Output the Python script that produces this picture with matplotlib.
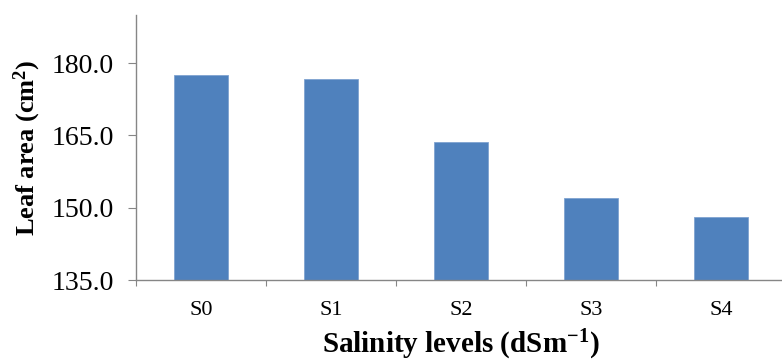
import matplotlib
matplotlib.use("Agg")
import matplotlib.pyplot as plt
import numpy as np

categories = ["S0", "S1", "S2", "S3", "S4"]
leaf_area = [177.6, 176.8, 163.6, 152.1, 148.0]
y_ticks = [135.0, 150.0, 165.0, 180.0]

plt.rcParams['font.family'] = ['Liberation Serif', 'DejaVu Serif']
plt.rcParams['mathtext.fontset'] = 'custom'
plt.rcParams['mathtext.rm'] = 'Liberation Serif'
plt.rcParams['mathtext.bf'] = 'Liberation Serif:bold'
plt.rcParams['mathtext.it'] = 'Liberation Serif:italic'

fig = plt.figure(figsize=(7.82, 3.64), dpi=100)
ax = fig.add_axes([136/782, 1-280/364, 650/782, 265/364])

x = np.arange(len(categories))
ax.bar(x, leaf_area, width=0.42, color='#4F81BD', edgecolor='#7FA3D1', linewidth=0.6, bottom=0)
ax.set_ylim(135, 190)
ax.set_xlim(-0.5, 4.5)

gray = '#868686'
for s in ['top', 'right']:
    ax.spines[s].set_visible(False)
for s in ['left', 'bottom']:
    ax.spines[s].set_color(gray)
    ax.spines[s].set_linewidth(1.0)

ax.set_yticks(y_ticks)
ax.set_yticklabels([f"{v:.1f}" for v in y_ticks], fontsize=20)
ax.tick_params(axis='y', direction='out', length=6, color=gray, pad=10)

ax.set_xticks(np.arange(-0.5, 5.0, 1.0))
ax.set_xticklabels([])
ax.tick_params(axis='x', which='major', direction='out', length=4, color=gray)
ax.set_xticks(x, minor=True)
ax.set_xticklabels(categories, minor=True, fontsize=16)
ax.tick_params(axis='x', which='minor', length=0, pad=15)

ax.set_ylabel(r'Leaf area (cm$^{\mathbf{2}}$)', fontsize=19, fontweight='bold', labelpad=6)
ax.set_xlabel(r'Salinity levels (dSm$^{\mathbf{-1}}$)', fontsize=21, fontweight='bold', labelpad=6)

fig.savefig('out.png', dpi=100)
